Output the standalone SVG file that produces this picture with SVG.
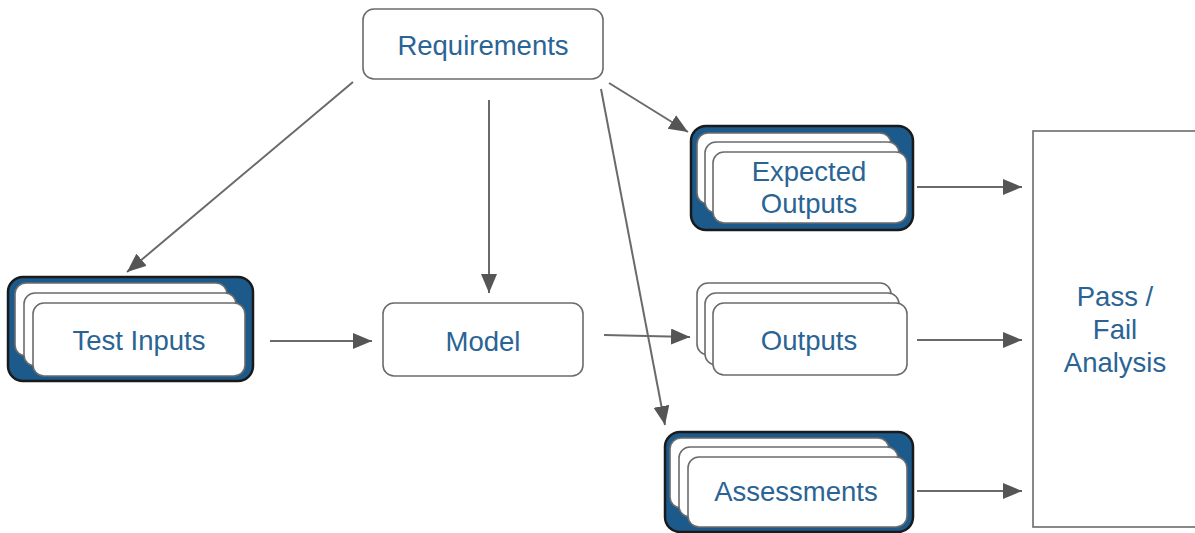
<svg xmlns="http://www.w3.org/2000/svg" width="1195" height="533" viewBox="0 0 1195 533">
<defs>
<style>
.box{fill:#fff;stroke:#6b6b6b;stroke-width:1.6}
.card{fill:#fff;stroke:#6b6b6b;stroke-width:1.6}
.outer{fill:#1b5a8a;stroke:#1a1a1a;stroke-width:2.5}
.lbl{font-family:"Liberation Sans",Arial,sans-serif;font-size:27.5px;fill:#2a6495;text-anchor:middle}
.con{stroke:#6a6a6a;stroke-width:2;fill:none;marker-end:url(#ah)}
</style>
<marker id="ah" markerUnits="userSpaceOnUse" markerWidth="20" markerHeight="18" refX="19" refY="8" orient="auto">
<path d="M0,0 L19,8 L0,16 z" fill="#555"/>
</marker>
</defs>
<rect width="1195" height="533" fill="#fff"/>
<g id="connectors">
<line class="con" x1="353" y1="82" x2="127" y2="272"/>
<line class="con" x1="489" y1="100" x2="489" y2="293"/>
<line class="con" x1="609" y1="83" x2="688" y2="132"/>
<line class="con" x1="601" y1="89" x2="665" y2="425"/>
<line class="con" x1="270" y1="341" x2="372" y2="341"/>
<line class="con" x1="604" y1="335" x2="690" y2="337"/>
<line class="con" x1="917" y1="187" x2="1022" y2="187"/>
<line class="con" x1="917" y1="340" x2="1022" y2="340"/>
<line class="con" x1="917" y1="491" x2="1022" y2="491"/>
</g>
<g id="requirements">
<rect class="box" x="363" y="9" width="240" height="70" rx="11"/>
<text class="lbl" x="483" y="55">Requirements</text>
</g>
<g id="model">
<rect class="box" x="383" y="303" width="200" height="73" rx="11"/>
<text class="lbl" x="483" y="351">Model</text>
</g>
<g id="test-inputs">
<rect class="outer" x="8" y="277" width="245" height="104" rx="15"/>
<rect class="card" x="15" y="283" width="212" height="73" rx="11"/>
<rect class="card" x="24" y="293" width="212" height="73" rx="11"/>
<rect class="card" x="33" y="303" width="212" height="73" rx="11"/>
<text class="lbl" x="139" y="350">Test Inputs</text>
</g>
<g id="expected-outputs">
<rect class="outer" x="691" y="126" width="222" height="104" rx="15"/>
<rect class="card" x="697" y="133" width="194" height="71" rx="11"/>
<rect class="card" x="705" y="142" width="194" height="71" rx="11"/>
<rect class="card" x="713" y="152" width="194" height="71" rx="11"/>
<text class="lbl" x="809" y="181">Expected</text>
<text class="lbl" x="809" y="213">Outputs</text>
</g>
<g id="outputs">
<rect class="card" x="697" y="283" width="194" height="72" rx="11"/>
<rect class="card" x="705" y="293" width="194" height="72" rx="11"/>
<rect class="card" x="713" y="303" width="194" height="72" rx="11"/>
<text class="lbl" x="809" y="350">Outputs</text>
</g>
<g id="assessments">
<rect class="outer" x="665" y="432" width="248" height="100" rx="15"/>
<rect class="card" x="670" y="438" width="219" height="70" rx="11"/>
<rect class="card" x="679" y="447" width="219" height="70" rx="11"/>
<rect class="card" x="688" y="457" width="219" height="70" rx="11"/>
<text class="lbl" x="796" y="501">Assessments</text>
</g>
<g id="pass-fail">
<rect class="box" x="1033" y="131" width="180" height="396"/>
<text class="lbl" x="1115" y="306">Pass /</text>
<text class="lbl" x="1115" y="339">Fail</text>
<text class="lbl" x="1115" y="372">Analysis</text>
</g>
</svg>
